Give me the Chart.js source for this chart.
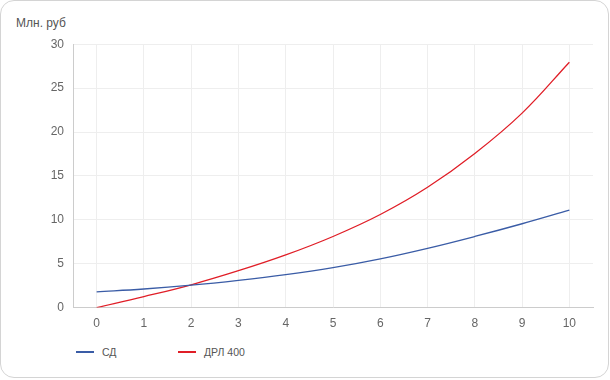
<!DOCTYPE html>
<html>
<head>
<meta charset="utf-8">
<script src="https://cdn.jsdelivr.net/npm/chart.js@4.4.1/dist/chart.umd.min.js"></script>
<style>
  html, body { margin: 0; padding: 0; background: #fff; }
  body { width: 610px; height: 380px; position: relative; font-family: "Liberation Sans", Arial, sans-serif; }
  #card { position: absolute; left: 0; top: 0; width: 607px; height: 376px; border: 1px solid #d4d4d4; border-radius: 14px; background: #fff; box-sizing: content-box; }
  #title { position: absolute; left: 15px; top: 15px; font-size: 12px; color: #555; }
  #wrap { position: absolute; left: 0; top: 27px; width: 607px; height: 312px; }
  #legend { position: absolute; left: 75px; top: 345px; font-size: 10.5px; color: #555; display: flex; }
  .item { display: flex; align-items: center; }
  .swatch { width: 18px; height: 2.5px; margin-right: 8px; }
</style>
</head>
<body>
<div id="card">
  <div id="title">Млн. руб</div>
  <div id="wrap"><canvas id="c"></canvas></div>
  <div id="legend"></div>
</div>
<script>
const categories = ["0","1","2","3","4","5","6","7","8","9","10"];
const seriesNames = ["СД", "ДРЛ 400"];
const sdValues = [1.8, 2.12, 2.55, 3.1, 3.75, 4.55, 5.55, 6.75, 8.1, 9.55, 11.1];
const drlValues = [0, 1.25, 2.6, 4.2, 6.0, 8.1, 10.6, 13.7, 17.55, 22.15, 27.95];
const yTicks = [0, 5, 10, 15, 20, 25, 30];
const colors = ["#3a5ca6", "#e01e27"];

const chart = new Chart(document.getElementById('c'), {
  type: 'line',
  data: {
    labels: categories,
    datasets: [
      { label: seriesNames[0], data: sdValues, borderColor: colors[0], backgroundColor: colors[0], borderWidth: 1.3, pointRadius: 0, tension: 0.4 },
      { label: seriesNames[1], data: drlValues, borderColor: colors[1], backgroundColor: colors[1], borderWidth: 1.3, pointRadius: 0, tension: 0.4 }
    ]
  },
  options: {
    responsive: true,
    maintainAspectRatio: false,
    animation: false,
    layout: { padding: { left: 0, right: 15, top: 5, bottom: 0 } },
    plugins: { legend: { display: false }, tooltip: { enabled: false } },
    scales: {
      x: {
        offset: true,
        grid: { color: '#eeeeee', offset: false, drawTicks: false },
        border: { color: '#cccccc' },
        ticks: { color: '#666', font: { family: '"Liberation Sans", Arial, sans-serif', size: 12 }, padding: 9 }
      },
      y: {
        min: 0, max: 30,
        afterBuildTicks: (s) => { s.ticks = yTicks.map(v => ({ value: v })); },
        afterFit: (s) => { s.width = 72; },
        grid: { color: '#eeeeee', drawTicks: false },
        border: { color: '#cccccc' },
        ticks: { color: '#666', font: { family: '"Liberation Sans", Arial, sans-serif', size: 12 }, padding: 9 }
      }
    }
  }
});

const legend = document.getElementById('legend');
chart.data.datasets.forEach((ds, i) => {
  const it = document.createElement('div');
  it.className = 'item';
  it.style.width = i === 0 ? '102px' : 'auto';
  const sw = document.createElement('div');
  sw.className = 'swatch';
  sw.style.background = ds.borderColor;
  const tx = document.createElement('span');
  tx.textContent = ds.label;
  it.appendChild(sw); it.appendChild(tx);
  legend.appendChild(it);
});
</script>
</body>
</html>
